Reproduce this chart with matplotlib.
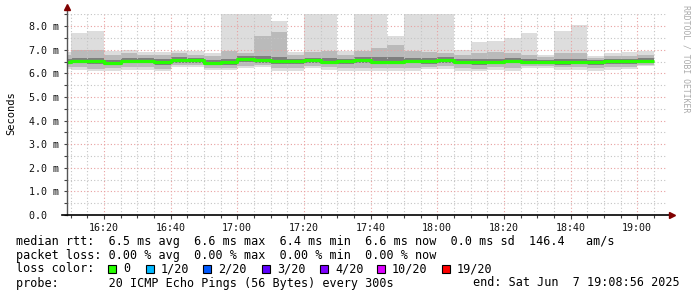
import matplotlib
matplotlib.use("Agg")
import matplotlib.pyplot as plt
import matplotlib.dates as mdates
import matplotlib.ticker as mticker
from matplotlib.patches import Rectangle
import pandas as pd

W, H = 697, 297
MONO = "DejaVu Sans Mono"

# ------------------ data (ms), one value per 5-minute bin ------------------
bin_start = pd.date_range("2025-06-07 16:05", "2025-06-07 19:00", freq="5min")

rtt_median = [6.50, 6.53, 6.52, 6.46, 6.53, 6.54, 6.47, 6.57, 6.55, 6.44, 6.48, 6.61,
              6.57, 6.52, 6.52, 6.55, 6.50, 6.53, 6.56, 6.49, 6.49, 6.54, 6.52, 6.56,
              6.50, 6.47, 6.49, 6.54, 6.49, 6.48, 6.48, 6.48, 6.47, 6.52, 6.52, 6.53]
rtt_max = [6.90, 7.71, 7.81, 6.93, 6.98, 6.90, 6.90, 6.93, 6.93, 6.85, 9.00, 9.00,
           9.00, 8.24, 6.90, 9.00, 9.00, 6.93, 9.00, 9.00, 7.60, 9.00, 9.00, 9.00,
           6.98, 7.33, 7.39, 7.50, 7.71, 6.79, 7.81, 8.07, 6.72, 6.86, 6.90, 6.97]
rtt_hi = [6.80, 7.00, 7.00, 6.80, 6.85, 6.80, 6.80, 6.85, 6.80, 6.75, 6.95, 6.85,
          7.57, 7.75, 6.80, 6.90, 6.95, 6.80, 6.95, 7.07, 7.19, 6.95, 6.90, 6.85,
          6.80, 6.85, 6.90, 6.85, 6.80, 6.70, 6.85, 6.85, 6.65, 6.75, 6.75, 6.80]
rtt_q3 = [6.62, 6.66, 6.64, 6.58, 6.64, 6.66, 6.60, 6.68, 6.66, 6.56, 6.62, 6.72,
          6.74, 6.70, 6.62, 6.66, 6.64, 6.63, 6.70, 6.68, 6.70, 6.66, 6.64, 6.68,
          6.60, 6.60, 6.62, 6.64, 6.60, 6.58, 6.60, 6.62, 6.56, 6.62, 6.62, 6.64]
rtt_q1 = [6.40, 6.42, 6.40, 6.34, 6.42, 6.44, 6.36, 6.46, 6.44, 6.34, 6.36, 6.48,
          6.44, 6.40, 6.38, 6.44, 6.38, 6.40, 6.44, 6.38, 6.38, 6.42, 6.40, 6.44,
          6.38, 6.36, 6.38, 6.42, 6.38, 6.38, 6.36, 6.38, 6.36, 6.40, 6.40, 6.42]
rtt_lo = [6.28, 6.26, 6.20, 6.22, 6.26, 6.28, 6.20, 6.34, 6.34, 6.24, 6.24, 6.32,
          6.34, 6.22, 6.22, 6.32, 6.26, 6.22, 6.22, 6.22, 6.24, 6.24, 6.28, 6.30,
          6.22, 6.20, 6.26, 6.24, 6.30, 6.30, 6.26, 6.26, 6.24, 6.28, 6.28, 6.34]
rtt_min = [6.20, 6.16, 6.09, 6.12, 6.16, 6.16, 6.09, 6.26, 6.26, 6.16, 6.16, 6.23,
           6.26, 6.09, 6.09, 6.23, 6.16, 6.09, 6.09, 6.09, 6.12, 6.09, 6.20, 6.20,
           6.09, 6.09, 6.16, 6.12, 6.23, 6.23, 6.16, 6.16, 6.12, 6.16, 6.19, 6.30]

loss_labels = ["0", "1/20", "2/20", "3/20", "4/20", "10/20", "19/20"]
loss_colors = ["#26ff00", "#00b8ff", "#0059ff", "#5e00ff", "#7e00ff", "#dd00ff", "#ff0000"]

t_from = pd.Timestamp("2025-06-07 16:08:56")
t_to = pd.Timestamp("2025-06-07 19:08:56")


def fx(x):
    return x / W


def fy(y):
    return 1 - y / H


fig = plt.figure(figsize=(W / 100, H / 100), dpi=100)
ax = fig.add_axes([fx(67), fy(215), fx(600), 200.6 / H])

x = mdates.date2num(bin_start)
width = 5 / 1440
layers = [(rtt_min, rtt_max, "#dddddd"),
          (rtt_lo, rtt_hi, "#bababa"),
          (rtt_q1, rtt_q3, "#7e7e7e")]
for lo, hi, col in layers:
    ax.bar(x, [h - l for l, h in zip(lo, hi)], width=width, bottom=lo,
           align="edge", color=col, linewidth=0, zorder=1)

edges = list(x) + [x[-1] + width]
ax.step(edges, rtt_median + [rtt_median[-1]], where="post",
        color=loss_colors[0], lw=2.3, zorder=3, solid_capstyle="butt")

ax.set_xlim(mdates.date2num(t_from), mdates.date2num(t_to))
ax.set_ylim(0, 8.5)

# grid: grey minor, red major, drawn on top of the smoke
ax.xaxis.set_major_locator(mdates.MinuteLocator(byminute=[0, 20, 40]))
ax.xaxis.set_minor_locator(mdates.MinuteLocator(byminute=range(0, 60, 5)))
ax.xaxis.set_major_formatter(mdates.DateFormatter("%H:%M"))
ax.yaxis.set_major_locator(mticker.MultipleLocator(1))
ax.yaxis.set_minor_locator(mticker.MultipleLocator(0.5))
ax.yaxis.set_major_formatter(mticker.FuncFormatter(
    lambda v, p: "0.0  " if v == 0 else f"{v:.1f} m"))
ax.grid(which="minor", color="#c4c4c4", linestyle=(0, (1, 2)), lw=0.8, zorder=4)
ax.grid(which="major", color="#e8a0a0", linestyle=(0, (1, 2)), lw=0.8, zorder=5)
ax.set_axisbelow(False)

for s in ax.spines.values():
    s.set_visible(False)
ax.tick_params(which="both", direction="out", colors="#444444", length=2,
               width=0.8, labelsize=7.2, labelcolor="#111111")
ax.tick_params(axis="x", which="major", length=3, pad=3)
ax.tick_params(axis="y", which="major", pad=4)
for lab in ax.get_xticklabels() + ax.get_yticklabels():
    lab.set_family(MONO)

# axes with arrows
ax.plot([0, 0], [0, 1.03], transform=ax.transAxes, color="#555555", lw=1,
        clip_on=False, zorder=6)
ax.plot([-0.008, 1.008], [0, 0], transform=ax.transAxes, color="black", lw=1.2,
        clip_on=False, zorder=6)
ax.plot([0], [1.035], marker="^", ms=4, color="#800000", transform=ax.transAxes,
        clip_on=False, zorder=7)
ax.plot([1.009], [0], marker=">", ms=4, color="#800000", transform=ax.transAxes,
        clip_on=False, zorder=7)

fig.text(fx(11), fy(113), "Seconds", rotation=90, ha="center", va="center",
         family=MONO, fontsize=7.5)
fig.text(fx(686), fy(5), "RRDTOOL / TOBI OETIKER", rotation=270, ha="center",
         va="top", family=MONO, fontsize=5.9, color="#aaaaaa")

# legend block
fs = 8.5
fig.text(fx(16), fy(241),
         "median rtt:  6.5 ms avg  6.6 ms max  6.4 ms min  6.6 ms now  0.0 ms sd  146.4   am/s",
         family=MONO, fontsize=fs, va="center")
fig.text(fx(16), fy(255),
         "packet loss: 0.00 % avg  0.00 % max  0.00 % min  0.00 % now",
         family=MONO, fontsize=fs, va="center")
fig.text(fx(16), fy(269), "loss color:", family=MONO, fontsize=fs, va="center")
sq_x = [108, 146, 203, 262, 320, 377, 442]
for sx, lab, col in zip(sq_x, loss_labels, loss_colors):
    fig.add_artist(Rectangle((fx(sx), fy(273)), 8 / W, 8 / H, transform=fig.transFigure,
                             facecolor=col, edgecolor="black", lw=0.8))
    fig.text(fx(sx + 15), fy(269), lab, family=MONO, fontsize=fs, va="center")
fig.text(fx(16), fy(283), "probe:       20 ICMP Echo Pings (56 Bytes) every 300s",
         family=MONO, fontsize=fs, va="center")
fig.text(fx(680), fy(283), "end: Sat Jun  7 19:08:56 2025", family=MONO, fontsize=fs,
         va="center", ha="right")

fig.savefig("out.png", dpi=100)
